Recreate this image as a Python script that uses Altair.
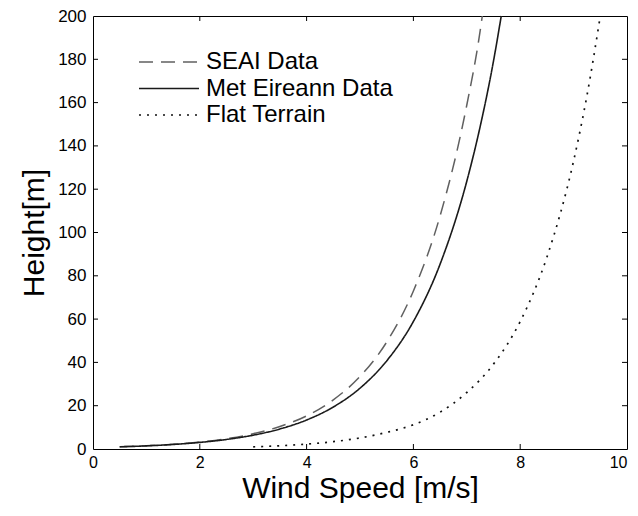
import altair as alt
import pandas as pd

series_names = ["SEAI Data", "Met Eireann Data", "Flat Terrain"]

seai_speed = [0.5, 1.0, 1.5, 2.0, 2.5, 3.0, 3.5, 4.0, 4.5, 5.0, 5.5, 6.0, 6.5, 7.0, 7.25, 7.29]
seai_height = [1.0, 1.48, 2.18, 3.22, 4.76, 7.03, 10.4, 15.3, 22.7, 33.5, 49.4, 73.0, 107.7, 158.9, 193.1, 200.0]

met_speed = [0.5, 1.0, 1.5, 2.0, 2.5, 3.0, 3.5, 4.0, 4.5, 5.0, 5.5, 6.0, 6.5, 7.0, 7.25, 7.5, 7.645]
met_height = [1.0, 1.45, 2.10, 3.04, 4.41, 6.38, 9.25, 13.4, 19.4, 28.1, 40.7, 58.9, 85.4, 123.7, 148.9, 179.2, 200.0]

flat_speed = [3.0, 3.5, 4.0, 4.5, 5.0, 5.5, 6.0, 6.5, 7.0, 7.5, 8.0, 8.5, 9.0, 9.25, 9.5]
flat_height = [1.0, 1.50, 2.26, 3.39, 5.11, 7.68, 11.2, 17.0, 26.1, 39.2, 58.9, 88.6, 133.1, 163.2, 200.0]

x_tick_labels = [0, 2, 4, 6, 8, 10]
y_tick_labels = [0, 20, 40, 60, 80, 100, 120, 140, 160, 180, 200]
x_inner_ticks = [2, 4, 6, 8]
y_inner_ticks = [20, 40, 60, 80, 100, 120, 140, 160, 180]

W, H = 534, 433
FONT = "Liberation Sans"

rows = []
for name, xs, ys in [
    (series_names[0], seai_speed, seai_height),
    (series_names[1], met_speed, met_height),
    (series_names[2], flat_speed, flat_height),
]:
    for xv, yv in zip(xs, ys):
        rows.append({"series": name, "speed": xv, "height": yv})
df = pd.DataFrame(rows)

color_scale = alt.Scale(domain=series_names, range=["#606060", "#1a1a1a", "#111111"])
dash_scale = alt.Scale(domain=series_names, range=[[14, 8], [1, 0], [2, 6]])
width_scale = alt.Scale(domain=series_names, range=[1.5, 1.7, 2.0])

axis_style = dict(ticks=False, domain=False, grid=False, labelFont=FONT, titleFont=FONT,
                  titleFontSize=30, titleFontWeight="normal", labelFlush=False,
                  labelColor="black", titleColor="black")

x_enc = alt.X(
    "speed:Q",
    scale=alt.Scale(domain=[0, 10], nice=False),
    axis=alt.Axis(values=x_tick_labels, title="Wind Speed [m/s]", labelFontSize=16,
                  labelAlign={"condition": {"test": "datum.value == 10", "value": "right"},
                              "value": "center"},
                  labelPadding=5, titlePadding=3, **axis_style),
)
y_enc = alt.Y(
    "height:Q",
    scale=alt.Scale(domain=[0, 200], nice=False),
    axis=alt.Axis(values=y_tick_labels, title="Height[m]", labelFontSize=17,
                  labelPadding=7, titlePadding=8, **axis_style),
)

lines = alt.Chart(df).mark_line(interpolate="monotone").encode(
    x=x_enc,
    y=y_enc,
    color=alt.Color("series:N", scale=color_scale, legend=None),
    strokeDash=alt.StrokeDash("series:N", scale=dash_scale, legend=None),
    strokeWidth=alt.StrokeWidth("series:N", scale=width_scale, legend=None),
)

xt = pd.DataFrame({"speed": x_inner_ticks})
yt = pd.DataFrame({"height": y_inner_ticks})

bottom_ticks = alt.Chart(xt).mark_rule(color="black", strokeWidth=1).encode(
    x="speed:Q", y=alt.value(H), y2=alt.value(H - 5))
top_ticks = alt.Chart(xt).mark_rule(color="black", strokeWidth=1).encode(
    x="speed:Q", y=alt.value(0), y2=alt.value(5))
left_ticks = alt.Chart(yt).mark_rule(color="black", strokeWidth=1).encode(
    y="height:Q", x=alt.value(0), x2=alt.value(5))
right_ticks = alt.Chart(yt).mark_rule(color="black", strokeWidth=1).encode(
    y="height:Q", x=alt.value(W), x2=alt.value(W - 5))

main = alt.layer(lines, bottom_ticks, top_ticks, left_ticks, right_ticks)

legend_df = pd.DataFrame({"series": series_names})
leg_y = alt.Y("series:N", scale=alt.Scale(type="point", domain=series_names,
                                           range=[46, 99], padding=0), axis=None)
legend_lines = alt.Chart(legend_df).mark_rule().encode(
    x=alt.value(46), x2=alt.value(106), y=leg_y,
    color=alt.Color("series:N", scale=color_scale, legend=None),
    strokeDash=alt.StrokeDash("series:N", scale=dash_scale, legend=None),
    strokeWidth=alt.StrokeWidth("series:N", scale=width_scale, legend=None),
)
legend_text = alt.Chart(legend_df).mark_text(
    align="left", baseline="middle", fontSize=24, font=FONT, color="black"
).encode(x=alt.value(113), y=leg_y, text="series:N")
legend = alt.layer(legend_lines, legend_text)

chart = alt.layer(main, legend).resolve_scale(y="independent").properties(
    width=W, height=H,
    background="white",
    autosize=alt.AutoSizeParams(type="none"),
    padding={"left": 85, "top": 8, "right": 3, "bottom": 54},
).configure_view(stroke="black", strokeWidth=1)

chart.save("out.html", embed_options={"renderer": "svg", "actions": False})
